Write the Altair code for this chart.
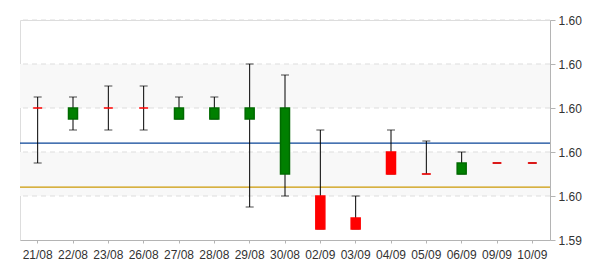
import altair as alt
import pandas as pd

dates = ["21/08", "22/08", "23/08", "26/08", "27/08", "28/08", "29/08", "30/08",
         "02/09", "03/09", "04/09", "05/09", "06/09", "09/09", "10/09"]
open_ = [1.6000, 1.5995, 1.6000, 1.6000, 1.5995, 1.5995, 1.5995, 1.5970,
         1.5960, 1.5950, 1.5980, 1.5970, 1.5970, 1.5975, 1.5975]
close = [1.6000, 1.6000, 1.6000, 1.6000, 1.6000, 1.6000, 1.6000, 1.6000,
         1.5945, 1.5945, 1.5970, 1.5970, 1.5975, 1.5975, 1.5975]
high = [1.6005, 1.6005, 1.6010, 1.6010, 1.6005, 1.6005, 1.6020, 1.6015,
        1.5990, 1.5960, 1.5990, 1.5985, 1.5980, 1.5975, 1.5975]
low = [1.5975, 1.5990, 1.5990, 1.5990, 1.5995, 1.5995, 1.5955, 1.5960,
       1.5945, 1.5945, 1.5970, 1.5970, 1.5970, 1.5975, 1.5975]

y_ticks = [1.594, 1.596, 1.598, 1.600, 1.602, 1.604]
band_lo = [1.596, 1.600]
band_hi = [1.598, 1.602]
upper_line = [1.5984]
lower_line = [1.5964]

df = pd.DataFrame({"date": dates, "open": open_, "close": close, "high": high, "low": low})
df["dir"] = ["up" if c > o else "down" for o, c in zip(open_, close)]

ydom = [y_ticks[0], y_ticks[-1]]
yscale = alt.Scale(domain=ydom, nice=False, zero=False)
yaxis = alt.Axis(orient="right", title=None, values=y_ticks, format=".2f", grid=False,
                 domainColor="#b4b4b4", tickColor="#b4b4b4", tickSize=5,
                 labelColor="#333333", labelFontSize=12, labelFont="Liberation Sans",
                 labelPadding=3)


def Y(field):
    return alt.Y(field, scale=yscale, axis=yaxis)


xenc = alt.X("date:N", sort=dates,
             scale=alt.Scale(paddingInner=0, paddingOuter=0),
             axis=alt.Axis(title=None, labelAngle=0, tickSize=3, domainColor="#b4b4b4",
                           tickColor="#b4b4b4", labelColor="#333333", labelFontSize=12,
                           labelFont="Liberation Sans", labelPadding=6, grid=False))

bands = alt.Chart(pd.DataFrame({"lo": band_lo, "hi": band_hi})).mark_rect(
    color="#f8f8f8", strokeWidth=0).encode(y=Y("lo:Q"), y2="hi:Q")

grid = alt.Chart(pd.DataFrame({"v": y_ticks[1:]})).mark_rule(
    color="#dddddd", strokeDash=[5, 4], strokeWidth=1).encode(y=Y("v:Q"))

uline = alt.Chart(pd.DataFrame({"v": upper_line})).mark_rule(color="#0a4597", strokeWidth=1.3).encode(
    y=Y("v:Q"))
lline = alt.Chart(pd.DataFrame({"v": lower_line})).mark_rule(color="#cc9a06", strokeWidth=1.3).encode(
    y=Y("v:Q"))

base = alt.Chart(df)
wick = base.mark_rule(color="black", strokeWidth=1).encode(x=xenc, y=Y("low:Q"), y2="high:Q")
cap_hi = base.mark_tick(color="black", size=8, thickness=1).encode(x=xenc, y=Y("high:Q"))
cap_lo = base.mark_tick(color="black", size=8, thickness=1).encode(x=xenc, y=Y("low:Q"))
body = base.mark_bar(size=9, strokeWidth=1.5).encode(
    x=xenc,
    y=Y("open:Q"),
    y2="close:Q",
    color=alt.Color("dir:N", scale=alt.Scale(domain=["up", "down"], range=["#008000", "#ff0000"]), legend=None),
    stroke=alt.Stroke("dir:N", scale=alt.Scale(domain=["up", "down"], range=["#006a00", "#ff0000"]), legend=None),
)

chart = alt.layer(bands, grid, uline, lline, wick, cap_hi, cap_lo, body).properties(
    width=530, height=220,
    autosize=alt.AutoSizeParams(type="none"),
    padding={"left": 20, "top": 20, "right": 50, "bottom": 30},
).configure_view(stroke="transparent", strokeWidth=0).configure(background="white").configure_axisLeft(
    domain=False, ticks=False, labels=False, grid=False)

chart.save("out.html", embed_options={"renderer": "svg", "actions": False})
